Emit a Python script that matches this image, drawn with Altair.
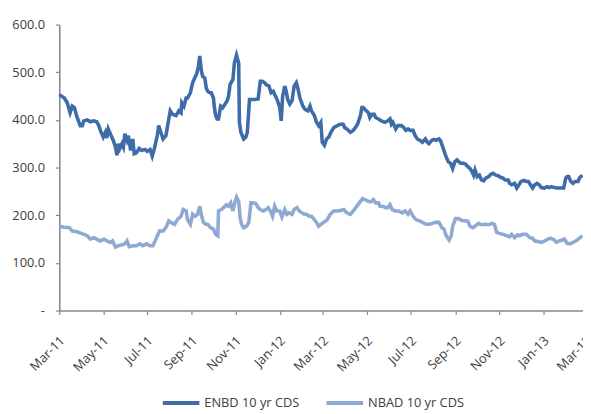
import altair as alt
import pandas as pd

# ENBD 10 yr CDS: days since 1 Mar 2011, value
enbd_days = [0, 7, 11, 15, 18, 21, 24, 29, 32, 34, 39, 43, 48, 52, 55, 57, 61, 64, 66, 68,
             72, 75, 78, 80, 82, 84, 87, 89, 91, 94, 96, 99, 102, 104, 107, 111, 114, 119, 122, 126,
             129, 132, 136, 138, 141, 144, 148, 152, 154, 157, 162, 166, 169, 170, 173, 176,
             178, 182, 185, 188, 191, 193, 195, 197, 199, 202, 204, 206, 209, 211, 214, 215, 217, 219,
             221, 224, 227, 230, 233, 235, 237, 241, 243, 246, 249, 250, 252, 256, 259, 261, 264, 267,
             271, 276, 279, 282, 285, 287, 291, 294, 297, 300, 303, 306, 308, 310, 313, 315, 317, 320,
             323, 326, 329, 331, 334, 338, 341, 345, 348, 350, 354, 357, 360, 363, 365, 368,
             371, 374, 377, 381, 386, 390, 394, 396, 399, 404, 408, 411, 414, 418, 420, 422, 426, 429,
             431, 434, 437, 439, 443, 447, 452, 456, 459, 461, 463, 467, 470, 475, 478, 481, 484, 487,
             491, 494, 497, 501, 504, 508, 511, 513, 517, 520, 523, 527, 529, 533, 536, 540, 543, 546,
             549, 552, 557, 561, 564, 567, 570, 573, 575, 577, 580, 583, 586, 589, 592, 596, 599, 602,
             606, 609, 613, 616, 619, 623, 625, 628, 632, 635, 638, 641, 645, 648, 651, 654, 657, 660,
             663, 666, 669, 673, 677, 680, 683, 687, 691, 696, 700, 703, 705, 707, 710, 713, 716, 720,
             722, 726]
enbd_vals = [453, 446, 436, 415, 429, 426, 409, 388, 388, 398, 400, 396, 398, 396, 388, 378, 364, 374, 362, 381,
             367, 357, 343, 326, 350, 340, 350, 343, 371, 357, 367, 336, 360, 329, 331, 340, 336, 338, 334, 338,
             324, 340, 367, 388, 374, 360, 367, 402, 419, 412, 409, 419, 415, 436, 429, 446,
             446, 457, 478, 488, 498, 512, 534, 505, 491, 488, 467, 460, 457, 457, 446, 429, 409, 402,
             402, 429, 426, 433, 440, 450, 474, 485, 519, 536, 519, 395, 374, 360, 364, 374, 443, 443,
             443, 444, 481, 481, 478, 474, 471, 457, 460, 450, 440, 426, 398, 450, 471, 460, 443, 433,
             440, 471, 478, 467, 446, 429, 422, 419, 429, 419, 409, 395, 388, 395, 353, 347,
             360, 364, 374, 384, 388, 391, 391, 384, 381, 374, 378, 384, 391, 409, 426, 426, 419, 415,
             405, 412, 412, 405, 402, 398, 395, 398, 402, 391, 395, 381, 388, 388, 384, 378, 381, 378,
             378, 367, 360, 357, 353, 360, 353, 350, 357, 359, 357, 360, 357, 340, 326, 312, 309, 298,
             312, 316, 309, 309, 307, 302, 298, 291, 284, 295, 281, 284, 274, 272, 278, 281, 286, 288,
             284, 283, 279, 278, 274, 274, 267, 264, 267, 257, 264, 271, 273, 271, 271, 264, 257, 264,
             267, 264, 258, 257, 260, 258, 260, 258, 257, 257, 257, 278, 281, 281, 271, 267, 271, 271,
             278, 284]

# NBAD 10 yr CDS: days since 1 Mar 2011, value
nbad_days = [0, 7, 14, 18, 23, 27, 34, 39, 43, 48, 52, 57, 62, 66, 71, 74, 78, 82, 87, 91,
             94, 97, 103, 107, 112, 116, 121, 126, 130, 135, 139, 144, 148, 152, 155, 160, 164, 169, 172, 176,
             178, 182, 185, 188, 192, 195, 197, 200, 203, 206, 210, 214, 217, 220, 221, 225, 228, 232,
             235, 238, 241, 244, 246, 249, 251, 253, 256, 260, 263, 266, 269, 273, 276, 279, 283, 287,
             290, 293, 296, 299, 302, 306, 309, 313, 316, 319, 323, 326, 330, 333, 337, 340, 343, 347,
             350, 354, 357, 360, 363, 367, 372, 376, 381, 386, 390, 395, 399, 404, 408, 413, 418, 421,
             424, 429, 432, 436, 439, 443, 445, 449, 453, 456, 459, 462, 467, 471, 476, 480, 484, 487,
             491, 495, 500, 504, 509, 513, 518, 522, 527, 531, 534, 537, 541, 544, 546, 550, 554, 559,
             564, 567, 570, 574, 577, 582, 586, 591, 596, 600, 604, 607, 611, 616, 621, 625, 628, 632,
             636, 639, 643, 648, 653, 657, 660, 665, 669, 674, 678, 682, 687, 690, 694, 698, 701, 705,
             709, 713, 717, 722, 726]
nbad_vals = [177, 175, 174, 167, 166, 164, 160, 157, 150, 153, 150, 146, 150, 146, 143, 146, 133, 136, 138, 140,
             146, 134, 136, 136, 140, 136, 140, 136, 136, 153, 167, 167, 174, 188, 185, 181, 191, 198, 212, 209,
             191, 181, 202, 198, 202, 219, 202, 185, 181, 181, 174, 171, 160, 157, 209, 212, 216, 222,
             219, 226, 209, 229, 238, 229, 195, 181, 174, 177, 185, 226, 226, 224, 216, 212, 209, 212,
             216, 209, 198, 219, 209, 209, 196, 212, 202, 205, 202, 212, 216, 209, 205, 202, 202, 198,
             198, 191, 185, 177, 181, 185, 191, 202, 209, 209, 210, 212, 205, 202, 209, 219, 229, 235,
             233, 229, 228, 233, 226, 226, 219, 219, 216, 216, 222, 212, 209, 209, 205, 209, 202, 209,
             198, 191, 188, 185, 181, 181, 183, 185, 185, 174, 171, 157, 148, 157, 177, 193, 193, 189,
             188, 188, 177, 174, 177, 183, 180, 181, 180, 183, 181, 164, 162, 160, 157, 155, 160, 153,
             159, 157, 160, 160, 153, 152, 146, 145, 143, 146, 150, 152, 148, 143, 146, 148, 150, 141,
             140, 143, 146, 152, 157]

series_names = ["ENBD 10 yr CDS", "NBAD 10 yr CDS"]
series_colors = ["#3D6CA8", "#8FA9D2"]
tick_months = [(2011, 3), (2011, 5), (2011, 7), (2011, 9), (2011, 11), (2012, 1), (2012, 3),
               (2012, 5), (2012, 7), (2012, 9), (2012, 11), (2013, 1), (2013, 3)]
y_ticks = [0, 100, 200, 300, 400, 500, 600]

start = pd.Timestamp("2011-03-01")
df = pd.concat([
    pd.DataFrame({"date": start + pd.to_timedelta(enbd_days, unit="D"),
                  "value": enbd_vals, "series": series_names[0], "order": range(len(enbd_days))}),
    pd.DataFrame({"date": start + pd.to_timedelta(nbad_days, unit="D"),
                  "value": nbad_vals, "series": series_names[1], "order": range(len(nbad_days))}),
])

font = "Open Sans"
txt = "#404040"
axis_col = "#888888"

tick_values = [alt.DateTime(year=y, month=m, date=1) for y, m in tick_months]

chart = alt.Chart(df).mark_line(strokeWidth=3.6, clip=False).encode(
    x=alt.X("date:T",
            scale=alt.Scale(domain=[alt.DateTime(year=2011, month=3, date=1),
                                    alt.DateTime(year=2013, month=3, date=1)],
                            range=[0, 534]),
            axis=alt.Axis(values=tick_values, format="%b-%y", formatType="time", title=None,
                          grid=False, labelAngle=-45, labelAlign="right", labelBaseline="middle",
                          labelPadding=24, labelOffset=3, tickSize=4, labelFontSize=13,
                          labelFont=font, labelColor=txt, domainColor=axis_col,
                          tickColor=axis_col, domainWidth=1.6, tickWidth=1.2,
                          labelOverlap=False, labelFlush=False)),
    y=alt.Y("value:Q",
            scale=alt.Scale(domain=[0, 600], nice=False, zero=True),
            axis=alt.Axis(values=y_ticks, title=None, grid=False, tickSize=4, labelPadding=11,
                          labelExpr="datum.value == 0 ? '-\u00a0\u00a0' : format(datum.value, '.1f')",
                          labelFontSize=13, labelFont=font, labelColor=txt,
                          domainColor=axis_col, tickColor=axis_col, domainWidth=1.6, tickWidth=1.2)),
    color=alt.Color("series:N",
                    scale=alt.Scale(domain=series_names, range=series_colors),
                    legend=alt.Legend(title=None, orient="none", legendX=103, legendY=363,
                                      direction="horizontal", symbolType="stroke",
                                      symbolSize=1369, symbolStrokeWidth=4, labelOffset=3,
                                      columnPadding=19, padding=0, labelFontSize=13,
                                      labelFont=font, labelColor=txt)),
    order="order:Q",
).properties(
    width=531, height=290,
    autosize=alt.AutoSizeParams(type="none"),
    padding={"left": 52, "top": 14, "right": 0, "bottom": 98},
).configure_view(stroke=None)

chart.save("out.html", embed_options={"renderer": "svg", "actions": False})
